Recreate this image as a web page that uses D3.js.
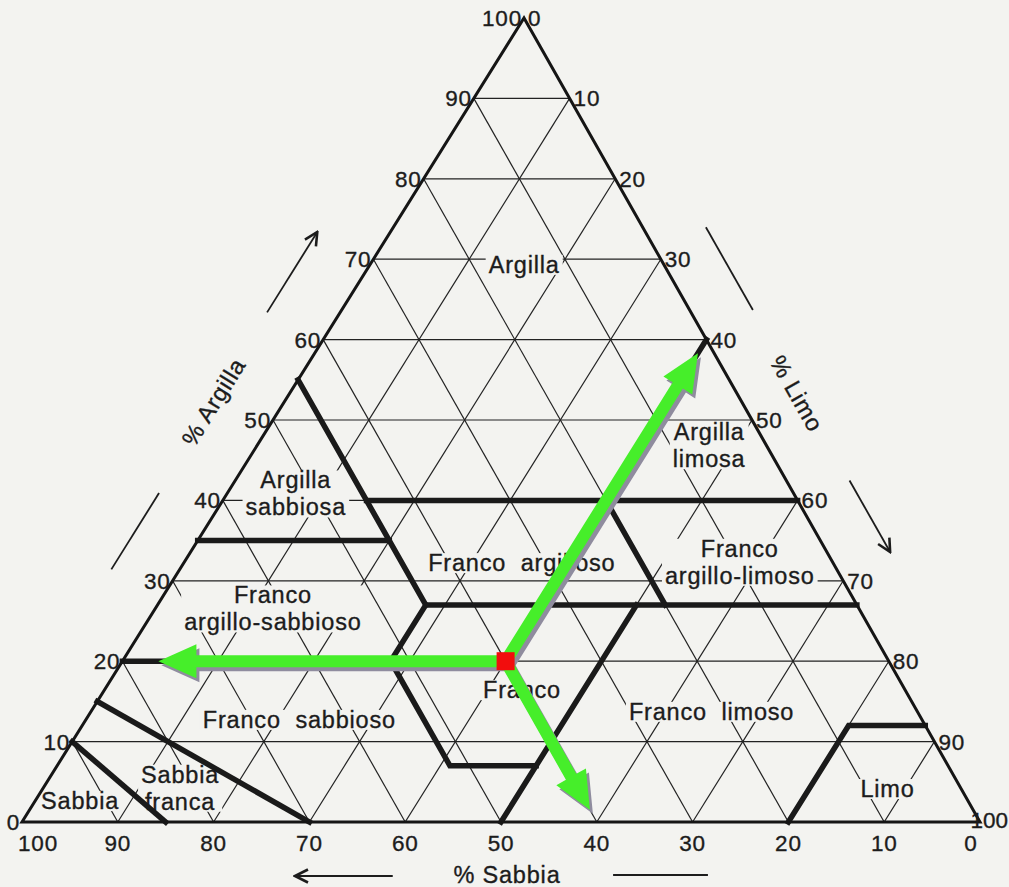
<!DOCTYPE html>
<html>
<head>
<meta charset="utf-8">
<script src="https://cdn.jsdelivr.net/npm/d3@7"></script>
<style>
  body { margin: 0; background: #f3f3f0; }
  svg text { font-family: "Liberation Sans", Arial, sans-serif; fill: #1c1c1c; stroke: #1c1c1c; stroke-width: 0.35px; }
</style>
</head>
<body>
<svg id="chart"></svg>
<script>
// page size
const width = 1009;
const height = 887;
const bg = '#f3f3f0';

// tick values on the three sides (% argilla, % limo, % sabbia)
const tickValues = [0, 10, 20, 30, 40, 50, 60, 70, 80, 90, 100];
const gridValues = [10, 20, 30, 40, 50, 60, 70, 80, 90];

// texture classes: label lines and label anchor as [sabbia, argilla]
const classNames = ['Argilla', 'Argilla sabbiosa', 'Argilla limosa', 'Franco argilloso',
    'Franco argillo-limoso', 'Franco argillo-sabbioso', 'Franco', 'Franco sabbioso',
    'Franco limoso', 'Sabbia franca', 'Sabbia', 'Limo'];
const classLines = [['Argilla'], ['Argilla', 'sabbiosa'], ['Argilla', 'limosa'], ['Franco  argilloso'],
    ['Franco', 'argillo-limoso'], ['Franco', 'argillo-sabbioso'], ['Franco'], ['Franco  sabbioso'],
    ['Franco  limoso'], ['Sabbia', 'franca'], ['Sabbia'], ['Limo']];
const classAnchors = [[14.6, 69.3], [52, 40.8], [6, 46.8], [32.5, 32.2],
    [9.7, 32.3], [61.2, 26.5], [40, 16.4], [65, 12.7],
    [21.5, 13.7], [81.5, 4.2], [92.7, 2.6], [7.7, 4.1]];

// class boundaries, each a polyline of [sabbia, argilla] points
const boundaries = [
    [[45, 55], [45, 27]],
    [[65, 35], [45, 35]],
    [[45, 40], [0, 40]],
    [[20, 40], [0, 60]],
    [[20, 40], [20, 27]],
    [[45, 27], [0, 27]],
    [[80, 20], [52, 20], [45, 27]],
    [[52, 20], [52, 7], [43, 7]],
    [[50, 0], [23, 27]],
    [[20, 0], [8, 12], [0, 12]],
    [[85, 15], [70, 0]],
    [[90, 10], [85, 0]]
];

// example sample: 40% sabbia, 40% limo, 20% argilla
const sample = { sabbia: 40, limo: 40, argilla: 20 };

// triangle corners in pixels
const corner = { sabbia: [22, 822], limo: [980, 822], argilla: [524, 18] };

const xLimo = d3.scaleLinear().domain([0, 100]).range([corner.sabbia[0], corner.limo[0]]);
const xShift = d3.scaleLinear().domain([0, 100]).range([0, corner.argilla[0] - corner.sabbia[0]]);
const yArg = d3.scaleLinear().domain([0, 100]).range([corner.sabbia[1], corner.argilla[1]]);

function pt(sabbia, argilla) {
    const limo = 100 - sabbia - argilla;
    return [xLimo(limo) + xShift(argilla), yArg(argilla)];
}

const svg = d3.select('svg#chart').attr('width', width).attr('height', height)
    .style('background', bg);

const line = d3.line();

// ---- grid
const grid = svg.append('g').attr('stroke', '#222').attr('stroke-width', 1.2).attr('fill', 'none');
gridValues.forEach(v => {
    // argilla constant
    grid.append('path').attr('d', line([pt(100 - v, v), pt(0, v)]));
    // sabbia constant
    grid.append('path').attr('d', line([pt(v, 0), pt(v, 100 - v)]));
    // limo constant
    grid.append('path').attr('d', line([pt(100 - v, 0), pt(0, 100 - v)]));
});

// ---- class labels with background so grid lines break around them
const labels = svg.append('g');
classNames.forEach((name, i) => {
    const [cx, cy] = pt(classAnchors[i][0], classAnchors[i][1]);
    const lines = classLines[i];
    const lh = 27;
    const g = labels.append('g');
    const t = g.append('text')
        .attr('text-anchor', 'middle')
        .style('font-size', '23.5px')
        .style('letter-spacing', '0.8px')
        .style('white-space', 'pre');
    lines.forEach((l, j) => {
        t.append('tspan').attr('x', cx)
            .attr('y', cy + (j - (lines.length - 1) / 2) * lh + 8)
            .text(l);
    });
    const b = t.node().getBBox();
    g.insert('rect', 'text').attr('x', b.x - 3).attr('y', b.y + 3)
        .attr('width', b.width + 6).attr('height', b.height - 6).attr('fill', bg);
});

// ---- class boundaries
svg.append('g').attr('stroke', '#1a1a1a').attr('stroke-width', 5.5).attr('fill', 'none')
    .attr('stroke-linejoin', 'miter').attr('stroke-linecap', 'square')
    .selectAll('path').data(boundaries).join('path')
    .attr('d', d => line(d.map(p => pt(p[0], p[1]))));

// ---- triangle outline
svg.append('path')
    .attr('d', line([corner.sabbia, corner.limo, corner.argilla]) + 'Z')
    .attr('fill', 'none').attr('stroke', '#151515').attr('stroke-width', 3)
    .attr('stroke-linejoin', 'miter');

// ---- tick labels
const tickG = svg.append('g').style('font-size', '22.5px').style('letter-spacing', '0.8px');
tickValues.forEach(v => {
    const l = pt(100 - v, v);
    tickG.append('text').attr('x', l[0] - 2).attr('y', l[1] + 8)
        .attr('text-anchor', 'end').text(v);
    const r = pt(0, 100 - v);
    if (v === 100) {
        tickG.append('text').attr('x', width - 1).attr('y', r[1] + 6)
            .attr('text-anchor', 'end').style('letter-spacing', '0px').text(v);
    } else {
        tickG.append('text').attr('x', r[0] + 4).attr('y', r[1] + 8)
            .attr('text-anchor', 'start').text(v);
    }
    const s = pt(v, 0);
    tickG.append('text').attr('x', Math.min(Math.max(s[0], 38), 971)).attr('y', s[1] + 29)
        .attr('text-anchor', 'middle').text(v);
});

// ---- axis titles and their arrows
function outward(p, n, d) { return [p[0] + n[0] * d, p[1] + n[1] * d]; }
const leftDir = [corner.argilla[0] - corner.sabbia[0], corner.argilla[1] - corner.sabbia[1]];
const leftLen = Math.hypot(leftDir[0], leftDir[1]);
const nLeft = [leftDir[1] / leftLen, -leftDir[0] / leftLen];
const rightDir = [corner.argilla[0] - corner.limo[0], corner.argilla[1] - corner.limo[1]];
const rightLen = Math.hypot(rightDir[0], rightDir[1]);
const nRight = [-rightDir[1] / rightLen, rightDir[0] / rightLen];

svg.append('defs').append('marker')
    .attr('id', 'head').attr('viewBox', '0 0 10 10').attr('refX', 9).attr('refY', 5)
    .attr('markerWidth', 9).attr('markerHeight', 9).attr('orient', 'auto')
    .append('path').attr('d', 'M1,1 L9,5 L1,9').attr('fill', 'none')
    .attr('stroke', '#1c1c1c').attr('stroke-width', 1.6);

const deco = svg.append('g').attr('stroke', '#1c1c1c').attr('stroke-width', 1.8).attr('fill', 'none');
const leftPt = c => pt(100 - c, c);
const rightPt = c => pt(0, c);
deco.append('path').attr('d', line([outward(leftPt(59.3), nLeft, 62), outward(leftPt(69.3), nLeft, 62)]))
    .attr('marker-end', 'url(#head)');
deco.append('path').attr('d', line([outward(leftPt(27.6), nLeft, 58), outward(leftPt(37.1), nLeft, 58)]));
deco.append('path').attr('d', line([outward(rightPt(70.6), nRight, 55), outward(rightPt(60.3), nRight, 55)]));
deco.append('path').attr('d', line([outward(rightPt(39.1), nRight, 55), outward(rightPt(30.2), nRight, 55)]))
    .attr('marker-end', 'url(#head)');
deco.append('path').attr('d', line([[pt(61.3, 0)[0], 876], [pt(71.5, 0)[0], 876]]))
    .attr('marker-end', 'url(#head)');
deco.append('path').attr('d', line([[pt(38.3, 0)[0], 875], [pt(28.4, 0)[0], 875]]));

const angL = Math.atan2(leftDir[1], leftDir[0]) * 180 / Math.PI;
const angR = Math.atan2(-rightDir[1], -rightDir[0]) * 180 / Math.PI;
const tl = outward(leftPt(48.3), nLeft, 60);
svg.append('text').attr('transform', `translate(${tl[0]},${tl[1]}) rotate(${angL})`)
    .attr('text-anchor', 'middle').attr('dy', '0.35em').style('font-size', '23.5px')
    .style('letter-spacing', '0.8px').text('% Argilla');
const tr = outward(rightPt(50.1), nRight, 52);
svg.append('text').attr('transform', `translate(${tr[0]},${tr[1]}) rotate(${angR})`)
    .attr('text-anchor', 'middle').attr('dy', '0.35em').style('font-size', '23.5px')
    .style('letter-spacing', '0.8px').text('% Limo');
svg.append('text').attr('x', pt(50, 0)[0] + 6).attr('y', 883)
    .attr('text-anchor', 'middle').style('font-size', '23.5px').style('letter-spacing', '0.8px')
    .text('% Sabbia');

// ---- reading arrows for the sample
function arrowPoly(a, b, gap) {
    const dx = b[0] - a[0], dy = b[1] - a[1];
    const len = Math.hypot(dx, dy);
    const ux = dx / len, uy = dy / len, px = -uy, py = ux;
    const tip = [a[0] + ux * (len - gap), a[1] + uy * (len - gap)];
    const hl = 38, hw = 17, sw = 6;
    const base = [tip[0] - ux * hl, tip[1] - uy * hl];
    return [
        [a[0] + px * sw, a[1] + py * sw],
        [base[0] + px * sw, base[1] + py * sw],
        [base[0] + px * hw, base[1] + py * hw],
        tip,
        [base[0] - px * hw, base[1] - py * hw],
        [base[0] - px * sw, base[1] - py * sw],
        [a[0] - px * sw, a[1] - py * sw]
    ];
}
const sp = pt(sample.sabbia, sample.argilla);
const readings = [
    [pt(100 - sample.argilla, sample.argilla), 36],
    [pt(0, 100 - sample.limo), 16],
    [pt(sample.sabbia, 0), 14]
];
const arrows = svg.append('g');
readings.forEach(([target, gap]) => {
    const poly = arrowPoly(sp, target, gap);
    arrows.append('polygon').attr('points', poly.map(p => [p[0] + 3, p[1] + 4].join(',')).join(' '))
        .attr('fill', '#8f8c9e');
});
readings.forEach(([target, gap]) => {
    const poly = arrowPoly(sp, target, gap);
    arrows.append('polygon').attr('points', poly.map(p => p.join(',')).join(' '))
        .attr('fill', '#46ee2a');
});
arrows.append('rect').attr('x', sp[0] - 9).attr('y', sp[1] - 9)
    .attr('width', 18).attr('height', 18).attr('fill', '#f20d0d');
</script>
</body>
</html>
